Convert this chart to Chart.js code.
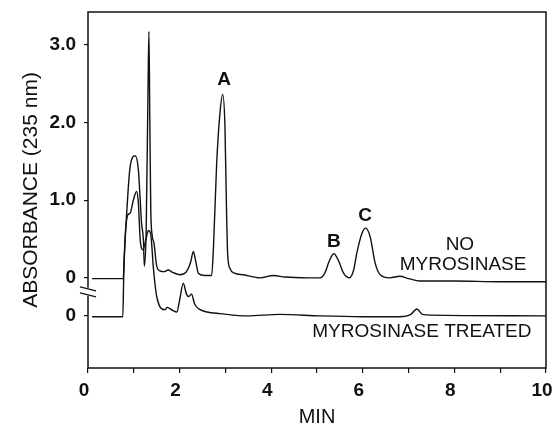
<!DOCTYPE html>
<html>
<head>
<meta charset="utf-8">
<script src="https://cdn.jsdelivr.net/npm/chart.js@4.4.0/dist/chart.umd.min.js"></script>
<style>
  html, body { margin: 0; padding: 0; background: #fff; }
  #wrap { width: 553px; height: 429px; }
</style>
</head>
<body>
<div id="wrap"><canvas id="chrom" width="553" height="429"></canvas></div>
<script>
// upper trace: no myrosinase (time in min, absorbance)
const noMyrTime = [0.09, 0.77, 0.79, 0.81, 0.84, 0.92, 1.03, 1.10, 1.14, 1.17, 1.21, 1.23,
  1.27, 1.31, 1.33, 1.35, 1.37, 1.40, 1.44, 1.50, 1.57, 1.66, 1.75, 1.85, 2.01, 2.15, 2.24,
  2.30, 2.35, 2.41, 2.55, 2.70, 2.74, 2.81, 2.88, 2.94, 2.99, 3.02, 3.05, 3.10, 3.20, 3.39,
  3.76, 4.05, 4.30, 4.80, 5.07, 5.17, 5.27, 5.37, 5.47, 5.58, 5.71, 5.80, 5.87, 5.98, 6.06,
  6.16, 6.27, 6.38, 6.59, 6.81, 7.00, 7.25, 8.00, 9.00, 10.0];
const noMyrAbs = [-0.01, -0.01, 0.25, 0.49, 0.79, 1.43, 1.57, 1.39, 1.00, 0.70, 0.49, 0.15,
  0.60, 2.40, 3.17, 2.00, 0.90, 0.55, 0.45, 0.15, 0.09, 0.08, 0.10, 0.07, 0.04, 0.08, 0.20,
  0.34, 0.22, 0.06, 0.03, 0.03, 0.40, 1.48, 2.11, 2.36, 1.95, 1.00, 0.30, 0.12, 0.06, 0.04,
  0.00, 0.03, 0.01, 0.00, 0.00, 0.06, 0.22, 0.31, 0.22, 0.06, 0.00, 0.10, 0.32, 0.57, 0.64,
  0.53, 0.19, 0.04, 0.00, 0.02, -0.01, -0.04, -0.04, -0.05, -0.05];

// lower trace: myrosinase treated, relative to its own baseline
const treatedTime = [0.09, 0.76, 0.78, 0.81, 0.87, 0.92, 0.99, 1.06, 1.10, 1.14, 1.20, 1.27,
  1.32, 1.37, 1.43, 1.50, 1.68, 1.73, 1.85, 1.94, 2.00, 2.08, 2.15, 2.20, 2.26, 2.33, 2.45,
  2.60, 2.88, 3.47, 4.19, 5.07, 6.00, 6.81, 7.05, 7.18, 7.30, 7.50, 10.0];
const treatedAbs = [-0.01, -0.01, 0.50, 1.00, 1.30, 1.32, 1.49, 1.60, 1.45, 0.98, 0.85, 1.00,
  1.10, 1.05, 0.60, 0.25, 0.08, 0.11, 0.07, 0.05, 0.20, 0.42, 0.28, 0.25, 0.28, 0.15, 0.08,
  0.05, 0.03, 0.00, 0.02, 0.00, -0.01, -0.01, 0.02, 0.09, 0.02, 0.01, 0.00];
const TREATED_OFFSET = -0.49;

const xLabelTicks = [0, 2, 4, 6, 8, 10];
const yTickValues = [TREATED_OFFSET, 0, 1, 2, 3];
const yTickLabels = ['0', '0', '1.0', '2.0', '3.0'];
const AXIS_BREAK = -0.18;

const peakNames = ['A', 'B', 'C'];
const peakTime = [2.97, 5.37, 6.05];
const peakAbs = [2.55, 0.47, 0.80];

const traceNames = ['NO', 'MYROSINASE', 'MYROSINASE TREATED'];
const traceNameTime = [8.12, 8.19, 7.29];
const traceNameAbs = [0.42, 0.17, -0.70];

const FONT = '"Liberation Sans", Arial, sans-serif';
const INK = '#111';

// box around the plot with the break on the left axis, plus text labels
const framePlugin = {
  id: 'frame',
  afterDatasetsDraw(chart) {
    const {ctx, chartArea: a, scales: {x, y}} = chart;
    const yb = y.getPixelForValue(AXIS_BREAK);
    ctx.save();
    ctx.strokeStyle = INK;
    ctx.lineWidth = 1.5;
    ctx.beginPath();
    ctx.moveTo(a.left, yb - 4);
    ctx.lineTo(a.left, a.top);
    ctx.lineTo(a.right, a.top);
    ctx.lineTo(a.right, a.bottom);
    ctx.lineTo(a.left, a.bottom);
    ctx.lineTo(a.left, yb + 4);
    ctx.stroke();
    ctx.lineWidth = 1.2;
    ctx.beginPath();
    ctx.moveTo(a.left - 8, yb - 5); ctx.lineTo(a.left + 8, yb - 1);
    ctx.moveTo(a.left - 8, yb + 1); ctx.lineTo(a.left + 8, yb + 5);
    ctx.stroke();

    ctx.fillStyle = INK;
    ctx.textAlign = 'center';
    ctx.textBaseline = 'middle';
    ctx.font = 'bold 19px ' + FONT;
    peakNames.forEach((t, i) => {
      ctx.fillText(t, x.getPixelForValue(peakTime[i]), y.getPixelForValue(peakAbs[i]));
    });
    ctx.font = '19px ' + FONT;
    traceNames.forEach((t, i) => {
      ctx.fillText(t, x.getPixelForValue(traceNameTime[i]), y.getPixelForValue(traceNameAbs[i]));
    });
    ctx.restore();
  }
};

const lineStyle = {
  borderColor: INK, borderWidth: 1.4, pointRadius: 0,
  cubicInterpolationMode: 'monotone', fill: false
};

new Chart(document.getElementById('chrom').getContext('2d'), {
  type: 'line',
  data: {
    datasets: [
      Object.assign({label: 'NO MYROSINASE',
        data: noMyrTime.map((t, i) => ({x: t, y: noMyrAbs[i]}))}, lineStyle),
      Object.assign({label: 'MYROSINASE TREATED',
        data: treatedTime.map((t, i) => ({x: t, y: treatedAbs[i] + TREATED_OFFSET}))}, lineStyle)
    ]
  },
  options: {
    responsive: false,
    animation: false,
    devicePixelRatio: 1,
    layout: { padding: { top: 12, right: 7, left: 0, bottom: 0 } },
    plugins: { legend: { display: false }, tooltip: { enabled: false } },
    scales: {
      x: {
        type: 'linear', min: 0, max: 10,
        border: { display: false },
        grid: { drawOnChartArea: false, tickLength: 5, color: INK, lineWidth: 1.2 },
        ticks: {
          stepSize: 1, autoSkip: false, maxRotation: 0, padding: 6, labelOffset: -4,
          color: INK, font: { family: FONT, size: 19, weight: 'bold' },
          callback: v => xLabelTicks.includes(v) ? String(v) : ''
        },
        title: { display: true, text: 'MIN', color: INK,
          font: { family: FONT, size: 20 }, padding: { top: 0, bottom: 0 } },
        afterFit: s => { s.height = 61; s.paddingLeft = 0; s.paddingRight = 0; }
      },
      y: {
        type: 'linear', min: -1.16, max: 3.42,
        border: { display: false },
        grid: { drawOnChartArea: false, tickLength: 4, color: INK, lineWidth: 1.2 },
        afterBuildTicks: s => { s.ticks = yTickValues.map(v => ({value: v})); },
        ticks: {
          padding: 8, color: INK, font: { family: FONT, size: 19, weight: 'bold' },
          callback: (v, i) => yTickLabels[i]
        },
        title: { display: true, text: 'ABSORBANCE (235 nm)', color: INK,
          font: { family: FONT, size: 21 }, padding: { top: 19, bottom: 0 } },
        afterFit: s => { s.width = 88; s.paddingTop = 0; s.paddingBottom = 0; }
      }
    }
  },
  plugins: [framePlugin]
});
</script>
</body>
</html>
